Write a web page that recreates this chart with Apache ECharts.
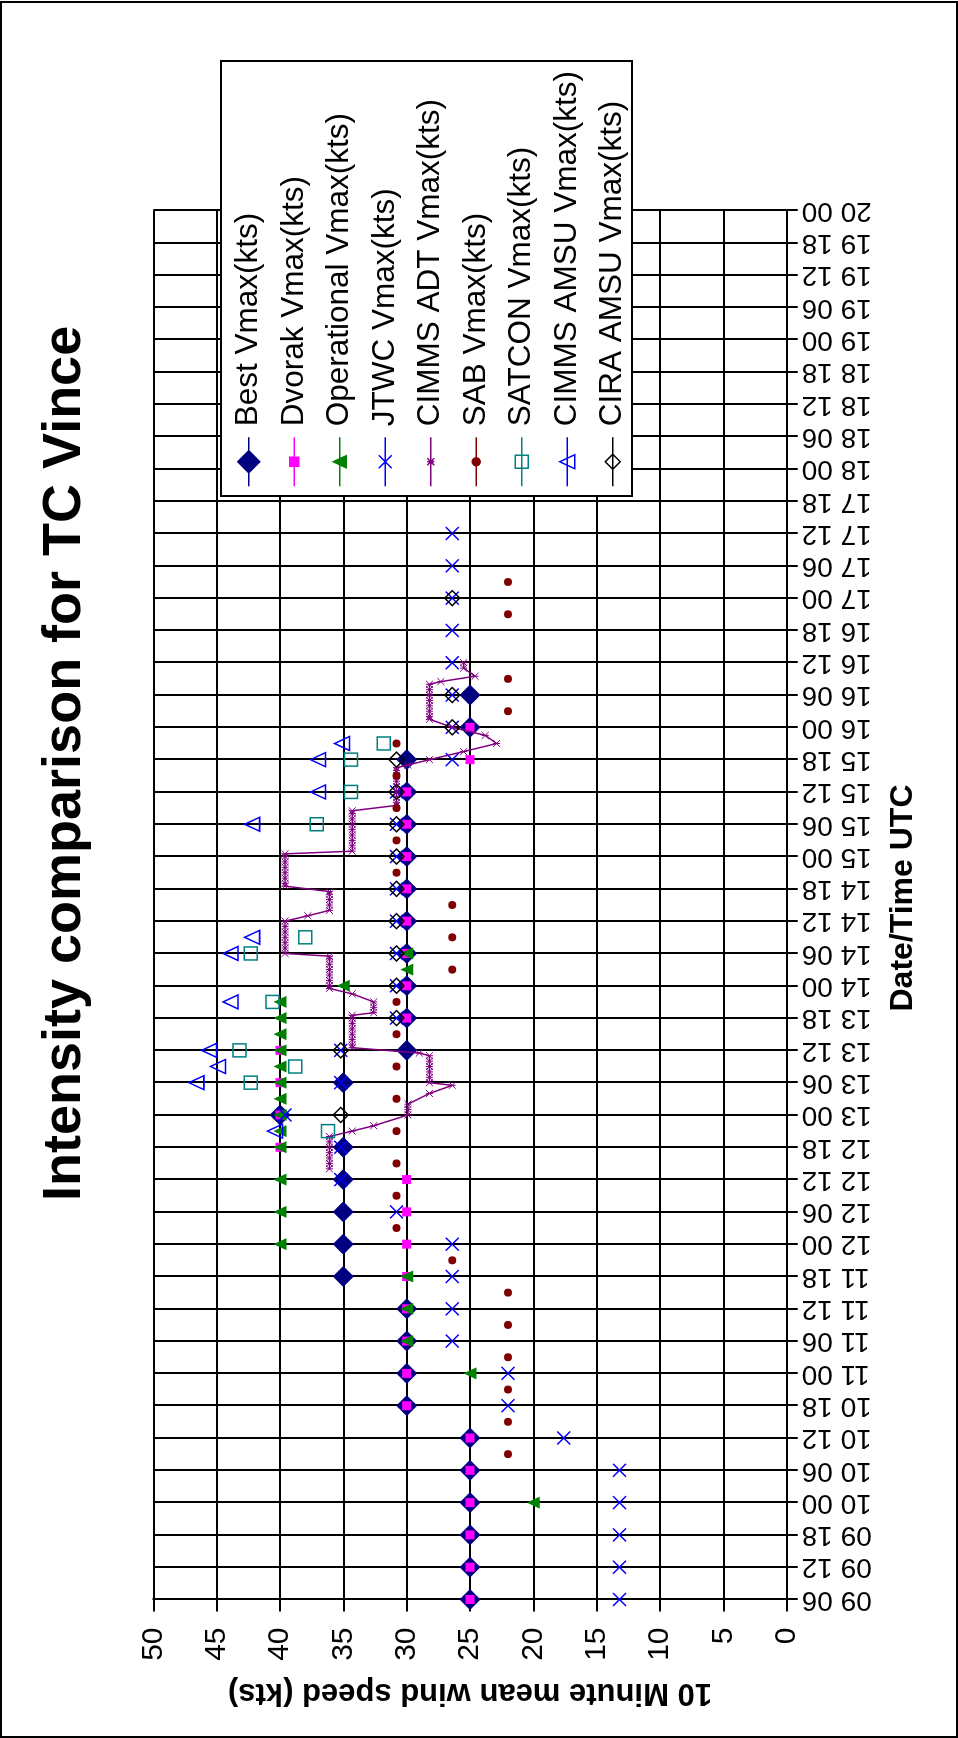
<!DOCTYPE html>
<html><head><meta charset="utf-8">
<script src="https://cdn.jsdelivr.net/npm/echarts@6/dist/echarts.min.js"></script>
<style>
html,body{margin:0;padding:0;background:#fff;}
body{width:958px;height:1738px;overflow:hidden;position:relative;}
#chart{position:absolute;left:0;top:0;width:1738px;height:958px;transform-origin:0 0;transform:translate(0,1738px) rotate(-90deg);}
#frame{position:absolute;left:0;top:1px;width:958px;height:1737px;box-sizing:border-box;border:2px solid #000;pointer-events:none;}
</style></head>
<body><div id="chart"></div><div id="frame"></div>
<script>
// ---- tick labels (every 6 h, starting 09 06 UTC) ----
const tickLabels = ['09 06','09 12','09 18','10 00','10 06','10 12','10 18','11 00','11 06','11 12','11 18',
  '12 00','12 06','12 12','12 18','13 00','13 06','13 12','13 18','14 00','14 06','14 12','14 18',
  '15 00','15 06','15 12','15 18','16 00','16 06','16 12','16 18','17 00','17 06','17 12','17 18',
  '18 00','18 06','18 12','18 18','19 00','19 06','19 12','19 18','20 00'];
const valueTicks = [0,5,10,15,20,25,30,35,40,45,50];

// ---- data: hours after 09 06 UTC, and Vmax (kts) ----
const bestHours = [0,6,12,18,24,30,36,42,48,54,60,66,72,78,84,90,96,102,108,114,120,126,132,138,144,150,156,162,168];
const bestVmax  = [25,25,25,25,25,25,30,30,30,30,35,35,35,35,35,40,35,30,30,30,30,30,30,30,30,30,30,25,25];

const dvorakHours = [0,6,12,18,24,30,36,42,48,54,60,66,72,78,84,90,96,102,108,114,120,126,132,138,144,150,156,162];
const dvorakVmax  = [25,25,25,25,25,25,30,30,30,30,30,30,30,30,40,40,40,40,30,30,30,30,30,30,30,30,25,25];

const operHours = [18,42,48,54,60,66,72,78,84,87,90,93,96,99,102,105,108,111,114,117,120];
const operVmax  = [20,25,30,30,30,40,40,40,40,40,40,40,40,40,40,40,40,40,35,30,30];

const jtwcHours = [0,6,12,18,24,30,36,42,48,54,60,66,72,78,84,90,96,102,108,114,120,126,132,138,144,150,156,162,168,174,180,186,192,198];
const jtwcVmax  = [13.2,13.2,13.2,13.2,13.2,17.6,22,22,26.4,26.4,26.4,26.4,30.8,35.2,35.2,39.6,35.2,35.2,30.8,30.8,30.8,30.8,30.8,30.8,30.8,30.8,26.4,26.4,26.4,26.4,26.4,26.4,26.4,26.4];

const adtHours = [80,81,82,83,84,85,86,87,88,90,91,92,94,95.5,96,97,98,99,100,101,101.5,102.5,103,104,105,106,107,108,108.5,
  109,110,111,112.5,113.5,114,115,116,117,118,119,119.5,120,121,122,123,124,125,126,127,128,129,130,131,131.5,132.5,133,134,135,
  136,137,138,138.5,139,140,141,142,143,144,145,146,146.5,147.5,148,149,150,151,152,153,154,154.5,155,156,157.5,159,160.5,162,
  163.5,164,165,166,167,168,169,170,170.5,171.5,173,174];
const adtVmax  = [36.1,36.1,36.1,36.1,36.1,36.1,36.1,34.3,32.6,29.9,29.9,29.9,28.2,26.4,28.2,28.2,28.2,28.2,28.2,28.2,29.0,34.3,34.3,34.3,34.3,34.3,34.3,34.3,34.3,
  32.6,32.6,32.6,34.3,36.1,36.1,36.1,36.1,36.1,36.1,36.1,36.1,39.6,39.6,39.6,39.6,39.6,39.6,39.6,37.8,36.1,36.1,36.1,36.1,36.1,39.6,39.6,39.6,39.6,
  39.6,39.6,39.6,39.6,34.3,34.3,34.3,34.3,34.3,34.3,34.3,34.3,34.3,30.8,30.8,30.8,30.8,30.8,30.8,30.8,30.8,30.8,29.9,28.2,25.5,22.9,23.8,26.4,
  28.2,28.2,28.2,28.2,28.2,28.2,28.2,28.2,27.3,24.6,25.5,25.5];

const sabHours = [27,33,39,45,51,57,63,69,75,81,87,93,99,105,111,117,123,129,135,141,147,153,159,165,171,183,189];
const sabVmax  = [22,22,22,22,22,22,26.4,30.8,30.8,30.8,30.8,30.8,30.8,30.8,30.8,26.4,26.4,26.4,30.8,30.8,30.8,30.8,30.8,22,22,22,22];

const satconHours = [87,96,99,102,111,120,123,144,150,156,159];
const satconVmax  = [36.2,42.3,38.8,43.2,40.6,42.3,38,37.1,34.4,34.4,31.8];

const amsuHours = [87,96,99,102,111,120,123,144,150,156,159];
const amsuVmax  = [40.4,46.6,44.9,45.6,43.9,43.9,42.2,42.2,37.0,37.0,35.1];

const ciraHours = [90,102,108,114,120,126,132,138,144,150,156,162,168,186];
const ciraVmax  = [35.2,35.2,30.8,30.8,30.8,30.8,30.8,30.8,30.8,30.8,30.8,26.4,26.4,26.4];

const seriesNames = ['Best Vmax(kts)','Dvorak Vmax(kts)','Operational Vmax(kts)','JTWC Vmax(kts)','CIMMS ADT Vmax(kts)',
  'SAB Vmax(kts)','SATCON Vmax(kts)','CIMMS AMSU Vmax(kts)','CIRA AMSU Vmax(kts)'];

// ---- styling ----
const FONT = 'Liberation Sans, Arial, sans-serif';
const CROSS = 'path://M0,0L10,10M10,0L0,10';
const STAR = 'path://M0,0L10,10M10,0L0,10M5,0L5,10';
const styles = [
  {h:bestHours,  v:bestVmax,  sym:'diamond', size:21, shape:'diamond', lw:[22,22], fill:'#000080', stroke:'#000080', bw:0},
  {h:dvorakHours,v:dvorakVmax,sym:'rect', size:9, shape:'rect', lw:[9,9], fill:'#FF00FF', stroke:'#FF00FF', bw:0},
  {h:operHours,  v:operVmax,  sym:'triangle', size:[12,13], shape:'triangle', lw:[12,13], fill:'#008000', stroke:'#008000', bw:0},
  {h:jtwcHours,  v:jtwcVmax,  sym:CROSS, size:13, shape:'cross', lw:[13,13], fill:'transparent', stroke:'#0000FF', bw:1.5},
  {h:adtHours,   v:adtVmax,   sym:STAR, size:7, shape:'star', lw:[7,7], fill:'transparent', stroke:'#800080', bw:1, line:1.5},
  {h:sabHours,   v:sabVmax,   sym:'circle', size:8, shape:'circle', lw:[8,8], fill:'#800000', stroke:'#800000', bw:0},
  {h:satconHours,v:satconVmax,sym:'rect', size:13, shape:'rect', lw:[13,13], fill:'transparent', stroke:'#008080', bw:1.5},
  {h:amsuHours,  v:amsuVmax,  sym:'triangle', size:[14,15], shape:'triangle', lw:[14,15], fill:'transparent', stroke:'#0000FF', bw:1.5},
  {h:ciraHours,  v:ciraVmax,  sym:'diamond', size:15, shape:'diamond', lw:[15,15], fill:'transparent', stroke:'#000000', bw:1.5}
];

// legend icon: line + marker drawn in a fixed box
const IW = 55, IH = 31, CX = 24.5, CY = 15.5, LL = 49;
function iconPath(shape, w, h) {
  let p = 'M0,0M' + IW + ',' + IH + 'M0,' + CY + 'L' + LL + ',' + CY;
  const l = CX - w / 2, r = CX + w / 2, t = CY - h / 2, b = CY + h / 2;
  if (shape === 'diamond') p += `M${CX},${t}L${r},${CY}L${CX},${b}L${l},${CY}Z`;
  else if (shape === 'rect') p += `M${l},${t}L${r},${t}L${r},${b}L${l},${b}Z`;
  else if (shape === 'triangle') p += `M${CX},${t}L${r},${b}L${l},${b}Z`;
  else if (shape === 'cross') p += `M${l},${t}L${r},${b}M${r},${t}L${l},${b}`;
  else if (shape === 'star') p += `M${l},${t}L${r},${b}M${r},${t}L${l},${b}M${CX},${t}L${CX},${b}`;
  else if (shape === 'circle') p += `M${l},${CY}A${w/2},${h/2} 0 1,0 ${r},${CY}A${w/2},${h/2} 0 1,0 ${l},${CY}Z`;
  return 'path://' + p;
}

const series = styles.map((s, i) => ({
  name: seriesNames[i],
  type: 'line',
  data: s.h.map((t, k) => [t, s.v[k]]),
  symbol: s.sym,
  symbolSize: s.size,
  showSymbol: true,
  showAllSymbol: true,
  connectNulls: false,
  lineStyle: {color: s.stroke, width: s.line || 0},
  itemStyle: {color: s.fill, borderColor: s.stroke, borderWidth: s.bw},
  emphasis: {disabled: true},
  animation: false,
  z: 2 + i * 0.01
}));

const legendData = styles.map((s, i) => ({
  name: seriesNames[i],
  icon: iconPath(s.shape, s.lw[0], s.lw[1]),
  itemStyle: {color: s.fill, borderColor: s.stroke, borderWidth: 1.5, opacity: 1}
}));

const chart = echarts.init(document.getElementById('chart'), null, {renderer: 'canvas'});
chart.setOption({
  backgroundColor: '#fff',
  animation: false,
  title: {
    text: 'Intensity comparison for TC Vince',
    left: 537, top: 38, padding: 0,
    textStyle: {fontFamily: FONT, fontSize: 54, fontWeight: 'bold', color: '#000'}
  },
  legend: {
    orient: 'vertical',
    left: 1242, top: 221,
    padding: [11.5, 10, 3, 9],
    itemGap: 13,
    itemWidth: IW, itemHeight: IH,
    backgroundColor: '#fff',
    borderColor: '#000', borderWidth: 2, borderRadius: 0,
    selectedMode: false,
    textStyle: {fontFamily: FONT, fontSize: 31.5, color: '#000'},
    data: legendData
  },
  grid: {left: 138.5, right: 210.5, top: 153.3, bottom: 171.3, containLabel: false, outerBoundsMode: 'none'},
  xAxis: {
    type: 'value', min: 0, max: 258, interval: 6,
    position: 'bottom',
    name: 'Date/Time UTC', nameLocation: 'middle', nameGap: 100, nameMoveOverlap: false,
    nameTextStyle: {fontFamily: FONT, fontSize: 32, fontWeight: 'bold', color: '#000', padding: [0, 0, 0, 14]},
    axisLine: {show: true, onZero: false, lineStyle: {color: '#000', width: 2}},
    axisTick: {show: true, length: 11, lineStyle: {color: '#000', width: 2}},
    axisLabel: {show: true, rotate: 90, margin: 15, fontFamily: FONT, fontSize: 28, color: '#000',
      showMinLabel: true, showMaxLabel: true, hideOverlap: false,
      formatter: v => tickLabels[Math.round(v / 6)] || ''},
    splitLine: {show: true, lineStyle: {color: '#000', width: 2}}
  },
  yAxis: {
    type: 'value', min: valueTicks[0], max: valueTicks[valueTicks.length - 1], interval: 5,
    position: 'left',
    name: '10 Minute mean wind speed (kts)', nameLocation: 'middle', nameRotate: 90, nameGap: 78, nameMoveOverlap: false,
    nameTextStyle: {fontFamily: FONT, fontSize: 31, fontWeight: 'bold', color: '#000'},
    axisLine: {show: true, onZero: false, lineStyle: {color: '#000', width: 2}},
    axisTick: {show: true, length: 12, lineStyle: {color: '#000', width: 2}},
    axisLabel: {show: true, margin: 28, fontFamily: FONT, fontSize: 30, color: '#000',
      showMinLabel: true, showMaxLabel: true, hideOverlap: false},
    splitLine: {show: true, lineStyle: {color: '#000', width: 2}}
  },
  series: series
});
</script></body></html>
